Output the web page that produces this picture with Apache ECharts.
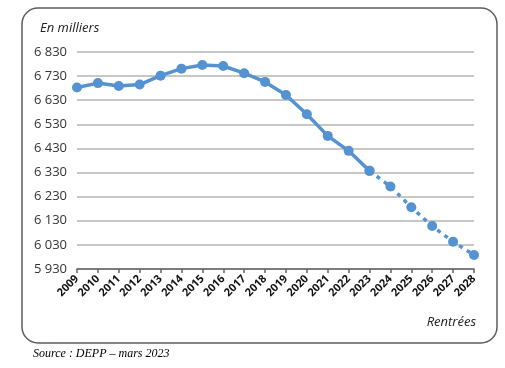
<!DOCTYPE html>
<html><head><meta charset="utf-8">
<script src="https://cdn.jsdelivr.net/npm/echarts@6/dist/echarts.min.js"></script>
<style>html,body{margin:0;padding:0;background:#fff}#c{width:505px;height:368px}</style>
</head><body><div id="c"></div>
<script>
const years = ['2009','2010','2011','2012','2013','2014','2015','2016','2017','2018','2019','2020','2021','2022','2023','2024','2025','2026','2027','2028'];
const values = [6683,6701,6689,6695,6732,6761,6776,6772,6742,6706,6652,6572,6482,6420,6337,6272,6186,6108,6043,5988];
const lastObserved = '2023';
const yTicks = [5930,6030,6130,6230,6330,6430,6530,6630,6730,6830];

const idx = years.indexOf(lastObserved);
const observed = values.map((v,i)=> i<=idx ? v : null);
const projected = values.map((v,i)=> i>=idx ? v : null);
const blue = '#5592d2';
const chart = echarts.init(document.getElementById('c'));
chart.setOption({
  backgroundColor:'#fff',
  animation:false,
  grid:{left:77,right:31,top:52,bottom:99},
  xAxis:{type:'category',data:years,boundaryGap:false,
    axisLine:{lineStyle:{color:'#666',width:1.5}},
    axisTick:{show:true,alignWithLabel:true,length:4,lineStyle:{color:'#666',width:1.5}},
    axisLabel:{rotate:45,color:'#111',fontWeight:'bold',fontSize:11,fontFamily:'Open Sans',margin:8,interval:0}},
  yAxis:{type:'value',min:yTicks[0],max:yTicks[yTicks.length-1],interval:100,
    axisLine:{show:false},axisTick:{show:false},
    splitLine:{lineStyle:{color:'#b4b4b4',width:1.5}},
    axisLabel:{color:'#333',fontSize:13,fontFamily:'Open Sans',margin:10,
      formatter:v=>{const s=String(v);return s.slice(0,s.length-3)+' '+s.slice(-3);}}},
  series:[
    {type:'line',data:observed,symbol:'circle',symbolSize:10,lineStyle:{color:blue,width:3.5},itemStyle:{color:blue}},
    {type:'line',data:projected,symbol:'circle',symbolSize:10,lineStyle:{color:blue,width:3.5,type:[4,5]},itemStyle:{color:blue}}
  ],
  graphic:[
    {type:'rect',shape:{x:22,y:8,width:475,height:335,r:16},style:{fill:'none',stroke:'#5a5d63',lineWidth:1.5},z:-1},
    {type:'text',left:40,top:22,style:{text:'En milliers',font:'italic 13px "Open Sans"',fill:'#222'}},
    {type:'text',right:29,top:316,style:{text:'Rentrées',font:'italic 13px "Open Sans"',fill:'#222'}},
    {type:'text',left:33,top:348,style:{text:'Source : DEPP – mars 2023',font:'italic 12px "Liberation Serif"',fill:'#000'}}
  ]
});
</script></body></html>
